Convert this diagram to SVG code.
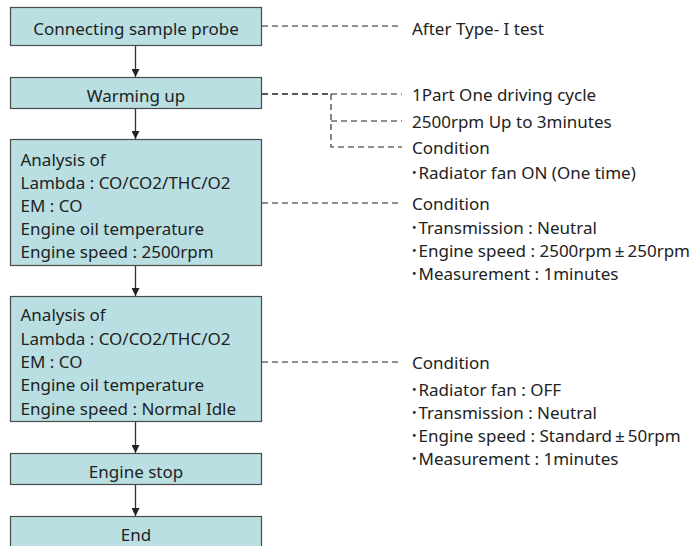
<svg xmlns="http://www.w3.org/2000/svg" width="695" height="546" viewBox="0 0 695 546">
<defs>
<style>
.box{fill:#b9dfe2;stroke:#4a4a4a;stroke-width:1.2}
.t{font-family:"Noto Sans","Liberation Sans","Noto Sans CJK JP",sans-serif;font-size:17px;fill:#222}
.c{text-anchor:middle}
.flow{stroke:#333;stroke-width:1.3;fill:none}
.dash{stroke:#222;stroke-width:1.1;fill:none;stroke-dasharray:6 4}
</style>
<marker id="ah" viewBox="0 0 10 10" refX="10" refY="5" markerWidth="8" markerHeight="8" markerUnits="userSpaceOnUse" orient="auto">
<path d="M0,0 L10,5 L0,10 Z" fill="#222"/>
</marker>
</defs>
<rect width="695" height="546" fill="#fff"/>

<g id="connectors">
<line class="flow" x1="135.5" y1="46" x2="135.5" y2="77" marker-end="url(#ah)"/>
<line class="flow" x1="135.5" y1="108.5" x2="135.5" y2="139" marker-end="url(#ah)"/>
<line class="flow" x1="135.5" y1="265.5" x2="135.5" y2="296" marker-end="url(#ah)"/>
<line class="flow" x1="135.5" y1="422" x2="135.5" y2="453" marker-end="url(#ah)"/>
<line class="flow" x1="135.5" y1="485" x2="135.5" y2="516" marker-end="url(#ah)"/>
<path class="dash" d="M262,26 H402"/>
<path class="dash" d="M262,94 H331" style="stroke-width:1.6"/>
<path class="dash" d="M331,94 H402"/>
<path class="dash" d="M331,94 V147 H402"/>
<path class="dash" d="M331,121 H402"/>
<path class="dash" d="M262,203 H402"/>
<path class="dash" d="M262,362 H402"/>
</g>

<g id="n1"><rect class="box" x="10.5" y="7.5" width="251" height="38"/><text class="t c" x="136" y="34.5">Connecting sample probe</text></g>
<g id="n2"><rect class="box" x="10.5" y="77.5" width="251" height="31"/><text class="t c" x="136" y="101.5">Warming up</text></g>
<g id="n3"><rect class="box" x="10.5" y="139.5" width="251" height="126"/>
<text class="t" x="20.5"><tspan x="20.5" y="165.5">Analysis of</tspan><tspan x="20.5" y="189">Lambda : CO/CO2/THC/O2</tspan><tspan x="20.5" y="212">EM : CO</tspan><tspan x="20.5" y="235">Engine oil temperature</tspan><tspan x="20.5" y="258">Engine speed : 2500rpm</tspan></text></g>
<g id="n4"><rect class="box" x="10.5" y="296.5" width="251" height="125"/>
<text class="t" x="20.5"><tspan x="20.5" y="321">Analysis of</tspan><tspan x="20.5" y="344.5">Lambda : CO/CO2/THC/O2</tspan><tspan x="20.5" y="368">EM : CO</tspan><tspan x="20.5" y="391">Engine oil temperature</tspan><tspan x="20.5" y="414.5">Engine speed : Normal Idle</tspan></text></g>
<g id="n5"><rect class="box" x="10.5" y="453.5" width="251" height="31"/><text class="t c" x="136" y="477.5">Engine stop</text></g>
<g id="n6"><rect class="box" x="10.5" y="516.5" width="251" height="40"/><text class="t c" x="136" y="541">End</text></g>

<g id="notes">
<text class="t" x="412" y="35">After Type- I test</text>
<text class="t" x="412" y="101">1Part One driving cycle</text>
<text class="t" x="412" y="128">2500rpm Up to 3minutes</text>
<text class="t" x="412" y="154">Condition</text>
<text class="t" x="410" y="179">･Radiator fan ON (One time)</text>
<text class="t" x="412" y="210">Condition</text>
<text class="t" x="410" y="234">･Transmission : Neutral</text>
<text class="t" x="410" y="257">･Engine speed : 2500rpm<tspan dx="3">±</tspan><tspan dx="3">250rpm</tspan></text>
<text class="t" x="410" y="280">･Measurement : 1minutes</text>
<text class="t" x="412" y="369">Condition</text>
<text class="t" x="410" y="396">･Radiator fan : OFF</text>
<text class="t" x="410" y="419">･Transmission : Neutral</text>
<text class="t" x="410" y="442">･Engine speed : Standard<tspan dx="3">±</tspan><tspan dx="3">50rpm</tspan></text>
<text class="t" x="410" y="465">･Measurement : 1minutes</text>
</g>
</svg>
